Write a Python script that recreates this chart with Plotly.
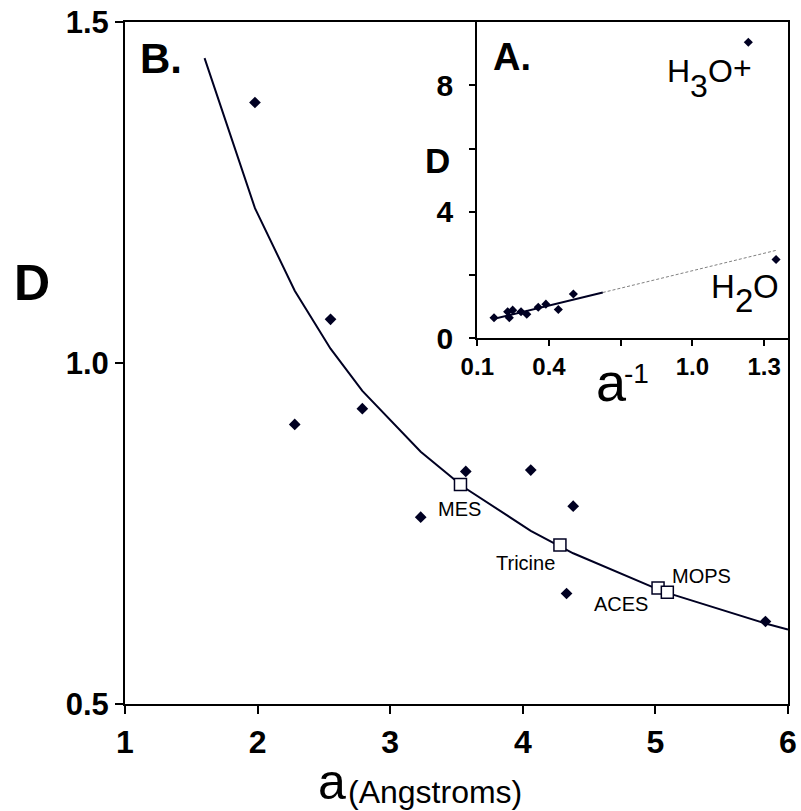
import plotly.graph_objects as go

# ---------------- data ----------------
# Panel B: D versus a (Angstroms)
main_a = [1.98, 2.28, 2.55, 2.79, 3.23, 3.57, 4.06, 4.33, 4.38, 5.83]
main_D = [1.382, 0.910, 1.064, 0.933, 0.774, 0.841, 0.843, 0.662, 0.790, 0.621]

buffer_names = ["MES", "Tricine", "ACES", "MOPS"]
buffer_a = [3.53, 4.28, 5.02, 5.09]
buffer_D = [0.822, 0.733, 0.670, 0.664]

curve_a = [1.60, 1.98, 2.28, 2.55, 2.79, 3.23, 3.53, 3.57, 4.06, 4.28, 4.33,
           4.38, 5.02, 5.09, 5.83, 6.00]
curve_D = [1.447, 1.227, 1.106, 1.021, 0.959, 0.870, 0.822, 0.816, 0.754,
           0.732, 0.726, 0.721, 0.668, 0.663, 0.618, 0.609]

# Panel A (inset): D versus a^-1
inset_inv_a = [0.170, 0.227, 0.234, 0.248, 0.283, 0.307, 0.355, 0.387,
               0.439, 0.502, 1.350, 1.234]
inset_D = [0.65, 0.84, 0.65, 0.89, 0.84, 0.76, 0.98, 1.08, 0.91, 1.40,
           2.49, 9.36]
inset_fit_x = [0.167, 0.625]
inset_fit_D = [0.609, 1.447]
inset_ext_x = [0.625, 1.35]
inset_ext_D = [1.447, 2.78]

main_xticks = [1, 2, 3, 4, 5, 6]
main_yticks = [0.5, 1.0, 1.5]
main_ytext = ["0.5", "1.0", "1.5"]
inset_xticks = [0.1, 0.4, 0.7, 1.0, 1.3]
inset_xtext = ["0.1", "0.4", "", "1.0", "1.3"]
inset_yticks = [0, 2, 4, 6, 8]
inset_ytext = ["0", "", "4", "", "8"]

# ---------------- style ----------------
W, H = 801, 811
ML, MR, MT, MB = 125, 13, 22, 107
PW, PH = W - ML - MR, H - MT - MB
FONT = "Liberation Sans, Arial, sans-serif"
INK = "#000022"


def px(x):
    return (x - ML) / PW


def py(y):
    return (H - MB - y) / PH


fig = go.Figure()

# main fitted curve
fig.add_trace(go.Scatter(x=curve_a, y=curve_D, mode="lines",
                         line=dict(color=INK, width=2), xaxis="x", yaxis="y",
                         hoverinfo="skip"))
# main data
fig.add_trace(go.Scatter(x=main_a, y=main_D, mode="markers",
                         marker=dict(symbol="diamond", size=9, color=INK,
                                     line=dict(width=0)),
                         xaxis="x", yaxis="y"))
# buffers
fig.add_trace(go.Scatter(x=buffer_a, y=buffer_D, mode="markers",
                         marker=dict(symbol="square", size=12, color="white",
                                     line=dict(color=INK, width=1.5)),
                         xaxis="x", yaxis="y"))

# inset lines
fig.add_trace(go.Scatter(x=inset_ext_x, y=inset_ext_D, mode="lines",
                         line=dict(color="#808080", width=1, dash="3px,2px"),
                         xaxis="x2", yaxis="y2", hoverinfo="skip"))
fig.add_trace(go.Scatter(x=inset_fit_x, y=inset_fit_D, mode="lines",
                         line=dict(color=INK, width=2),
                         xaxis="x2", yaxis="y2", hoverinfo="skip"))
fig.add_trace(go.Scatter(x=inset_inv_a, y=inset_D, mode="markers",
                         marker=dict(symbol="diamond", size=7, color=INK,
                                     line=dict(width=0)),
                         xaxis="x2", yaxis="y2"))

axis_common = dict(showgrid=False, zeroline=False, showline=True,
                   linecolor="black", linewidth=2, ticks="outside",
                   tickcolor="black", tickwidth=2, fixedrange=True,
                   automargin=False)

fig.update_layout(
    width=W, height=H,
    margin=dict(l=ML, r=MR, t=MT, b=MB, pad=0, autoexpand=False),
    paper_bgcolor="white", plot_bgcolor="white",
    showlegend=False,
    font=dict(family=FONT, color="black"),
    xaxis=dict(axis_common, domain=[0, 1], range=[1, 6], mirror=True,
               tickvals=main_xticks, ticklen=8, ticklabelstandoff=1,
               tickfont=dict(size=32, weight="bold", family=FONT)),
    yaxis=dict(axis_common, domain=[0, 1], range=[0.5, 1.5], mirror=True,
               tickvals=main_yticks, ticktext=main_ytext, ticklen=8,
               ticklabelstandoff=0,
               tickfont=dict(size=31, weight="bold", family=FONT)),
    xaxis2=dict(axis_common, domain=[px(477.3), 1], range=[0.1, 1.4],
                anchor="y2", tickvals=inset_xticks, ticktext=inset_xtext,
                ticklen=6, ticklabelstandoff=0,
                tickfont=dict(size=24, weight="bold", family=FONT)),
    yaxis2=dict(axis_common, domain=[py(338.3), 1], range=[0, 10],
                anchor="x2", tickvals=inset_yticks, ticktext=inset_ytext,
                ticklen=6, ticklabelstandoff=10,
                tickfont=dict(size=30, weight="bold", family=FONT)),
)


def text(t, x, y, size, bold=False, xanchor="center"):
    fig.add_annotation(text=t, x=px(x), y=py(y), xref="paper", yref="paper",
                       xanchor=xanchor, yanchor="middle", showarrow=False,
                       borderpad=0,
                       font=dict(size=size, family=FONT, color="black",
                                 weight="bold" if bold else "normal"))


# panel letters and axis titles
text("B.", 139, 58.7, 42, bold=True, xanchor="left")
text("D", 31.7, 282.7, 50, bold=True)
text("a", 317, 782.5, 50, xanchor="left")
text("(Angstroms)", 347, 791.5, 32, xanchor="left")

text("A.", 491.5, 56.8, 38, bold=True, xanchor="left")
text("D", 437.5, 160.9, 35, bold=True)
text("a", 594.7, 382.3, 54, xanchor="left")
text("-1", 623, 373.3, 28, xanchor="left")

# species labels
text("H", 666, 70.9, 32, xanchor="left")
text("3", 689, 85.9, 32, xanchor="left")
text("O", 707, 70.9, 32, xanchor="left")
text("+", 732, 67.6, 32, xanchor="left")

text("H", 710, 286.9, 33, xanchor="left")
text("2", 734, 300.9, 33, xanchor="left")
text("O", 752, 286.9, 33, xanchor="left")

# buffer labels (attached to data points)
label_shift = {"MES": (-1, -25), "Tricine": (-34, -18),
               "ACES": (-37, -16), "MOPS": (34, 16)}
for name, a, d in zip(buffer_names, buffer_a, buffer_D):
    dx, dy = label_shift[name]
    fig.add_annotation(text=name, x=a, y=d, xref="x", yref="y",
                       xshift=dx, yshift=dy, showarrow=False,
                       xanchor="center", yanchor="middle", borderpad=0,
                       font=dict(size=20, family=FONT, color="black"))

fig.write_html("out.html",
               config={"displayModeBar": False},
               post_script="document.body.style.margin='0';"
                           "document.body.style.overflow='hidden';")
